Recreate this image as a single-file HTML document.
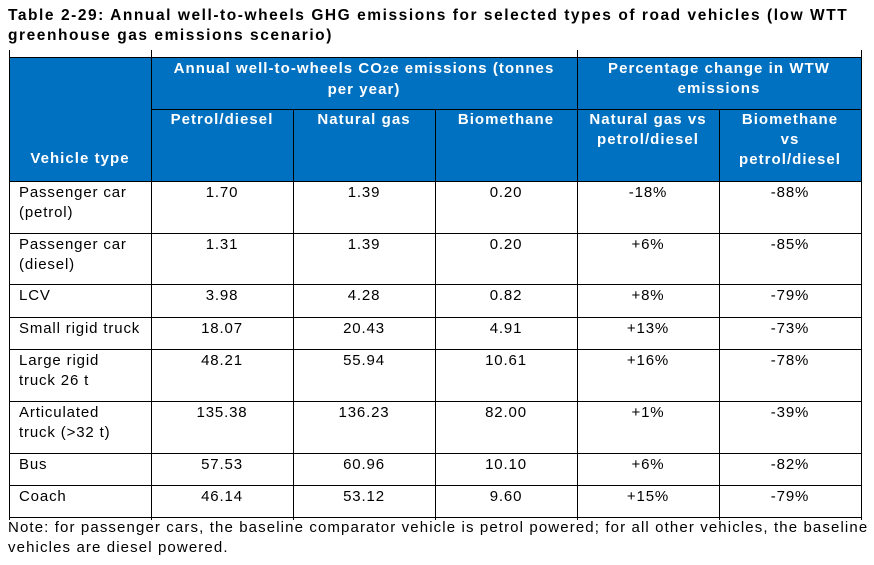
<!DOCTYPE html>
<html><head><style>
body{margin:0;width:874px;height:565px;background:#fff;font-family:"Liberation Sans",Arial,sans-serif;position:relative;overflow:hidden}
.t{position:absolute;left:8px;top:6px;font-weight:bold;font-size:15.5px;line-height:20px;color:#000;width:870px;letter-spacing:1.55px;white-space:nowrap}
.c{position:absolute;box-sizing:border-box;font-size:15px;line-height:20px;letter-spacing:0.85px}
.h{background:#0070c0;color:#fff;font-weight:bold;text-align:center;font-size:15px;line-height:20px;letter-spacing:1.05px}
.ln{position:absolute;background:#000}
.note{position:absolute;left:8px;top:518px;font-size:15px;line-height:20px;width:870px;letter-spacing:1.12px;white-space:nowrap}
</style></head><body>
<div class="t">Table 2-29: Annual well-to-wheels GHG emissions for selected types of road vehicles (low WTT<br>greenhouse gas emissions scenario)</div>
<div class="c h" style="left:9px;top:57px;width:852px;height:124px"></div>
<div class="c h" style="left:151px;top:59px;width:426px">Annual well-to-wheels CO<span style="font-size:11px">2</span>e emissions (tonnes<br>per year)</div>
<div class="c h" style="left:577px;top:59px;width:284px">Percentage change in WTW<br>emissions</div>
<div class="c h" style="left:9px;top:149px;width:142px">Vehicle type</div>
<div class="c h" style="left:151px;top:110px;width:142px">Petrol/diesel</div>
<div class="c h" style="left:293px;top:110px;width:142px">Natural gas</div>
<div class="c h" style="left:435px;top:110px;width:142px">Biomethane</div>
<div class="c h" style="left:577px;top:110px;width:142px">Natural gas vs<br>petrol/diesel</div>
<div class="c h" style="left:719px;top:110px;width:142px">Biomethane<br>vs<br>petrol/diesel</div>
<div id="rows"></div>
<div class="note">Note: for passenger cars, the baseline comparator vehicle is petrol powered; for all other vehicles, the baseline<br>vehicles are diesel powered.</div>
<script>
var rows=[[181,"Passenger car<br>(petrol)","1.70","1.39","0.20","-18%","-88%"],
[233,"Passenger car<br>(diesel)","1.31","1.39","0.20","+6%","-85%"],
[284,"LCV","3.98","4.28","0.82","+8%","-79%"],
[317,"Small rigid truck","18.07","20.43","4.91","+13%","-73%"],
[349,"Large rigid<br>truck 26 t","48.21","55.94","10.61","+16%","-78%"],
[401,"Articulated<br>truck (&gt;32 t)","135.38","136.23","82.00","+1%","-39%"],
[453,"Bus","57.53","60.96","10.10","+6%","-82%"],
[485,"Coach","46.14","53.12","9.60","+15%","-79%"]];
var xs=[9,151,293,435,577,719,861],h="";
rows.forEach(function(r){for(var i=0;i<6;i++){h+='<div class="c" style="left:'+(i==0?xs[0]+10:xs[i])+'px;top:'+(r[0]+2)+'px;width:'+(i==0?140:xs[i+1]-xs[i])+'px;text-align:'+(i==0?'left':'center')+'">'+r[i+1]+'</div>';}
h+='<div class="ln" style="left:9px;top:'+r[0]+'px;width:853px;height:1px"></div>';});
h+='<div class="ln" style="left:9px;top:517px;width:853px;height:1px"></div>';
h+='<div class="ln" style="left:9px;top:57px;width:853px;height:1px"></div>';
h+='<div class="ln" style="left:151px;top:109px;width:710px;height:1px"></div>';
xs.forEach(function(x,i){var top=(i==2||i==3||i==5)?109:50;h+='<div class="ln" style="left:'+x+'px;top:'+top+'px;width:1px;height:'+(520-top)+'px"></div>';});
document.getElementById("rows").innerHTML=h;
</script>
</body></html>
